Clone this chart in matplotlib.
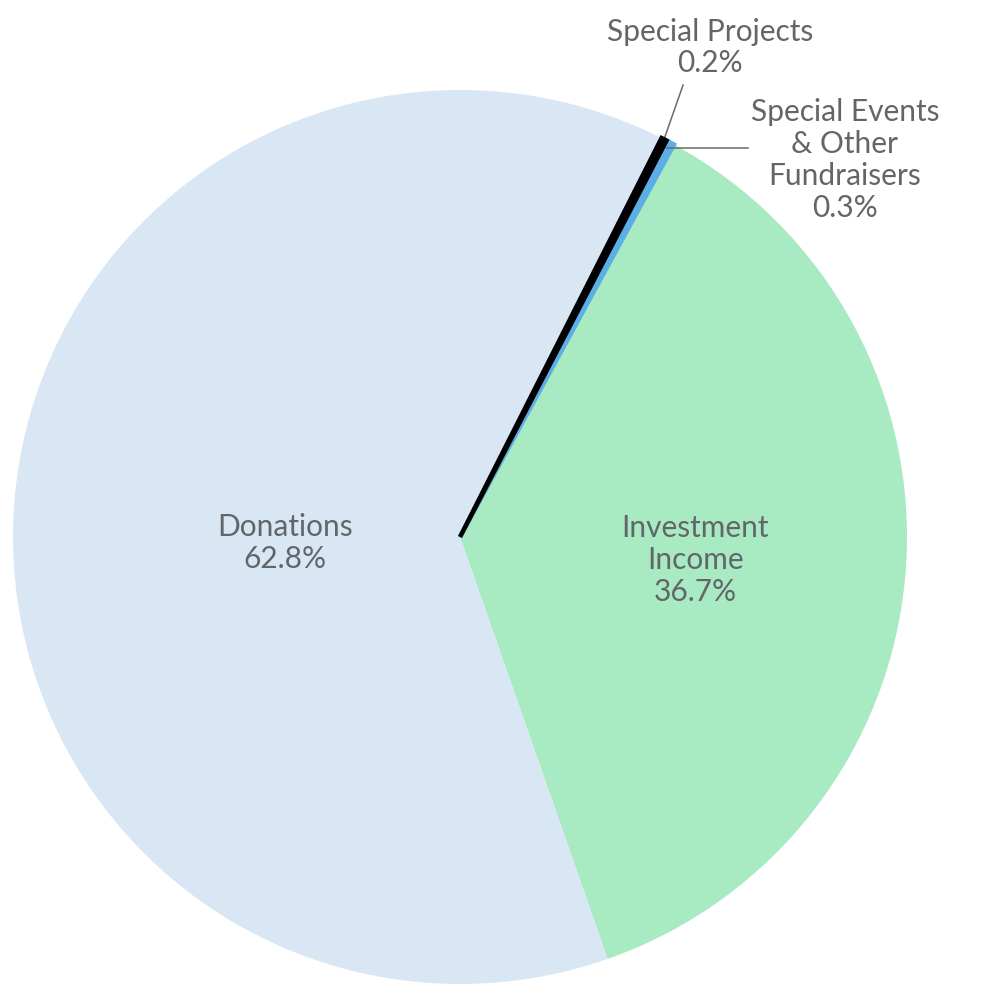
import numpy as np
import matplotlib
matplotlib.use("Agg")
import matplotlib.pyplot as plt

plt.rcParams['font.family'] = ['Lato', 'DejaVu Sans']

# data
categories = ['Investment\nIncome', 'Donations', 'Special Projects', 'Special Events\n& Other\nFundraisers']
shares = [36.7, 62.8, 0.2, 0.3]
colors = ['#a8eac2', '#d9e7f5', '#000000', '#5baee6']

text_color = '#62666a'

fig = plt.figure(figsize=(10, 10), dpi=100)
ax = fig.add_axes([0, 0, 1, 1])

# pie centre sits at pixel (460, 537) with radius 447
R = 447.0

wedges, _ = ax.pie(shares, colors=colors, startangle=61.4, counterclock=False,
                   radius=1.0, center=(0, 0), frame=True)
ax.set_xlim(-460 / R, 540 / R)
ax.set_ylim(-463 / R, 537 / R)
ax.set_aspect('equal')
ax.axis('off')

# small slices get an outline in their own colour so they stay visible
for w, s, c in zip(wedges, shares, colors):
    if s < 1:
        w.set_edgecolor(c)
        w.set_linewidth(3.2)
    else:
        w.set_edgecolor('none')
wedges[2].set_zorder(5)  # black slice on top of the blue one

fs = 21.5
ls = 1.17
ax.text(-0.391, -0.013, 'Donations\n62.8%', ha='center', va='center',
        fontsize=fs, color=text_color, linespacing=ls)
ax.text(0.526, -0.051, 'Investment\nIncome\n36.7%', ha='center', va='center',
        fontsize=fs, color=text_color, linespacing=ls)


def rim(w, r=1.0):
    a = np.deg2rad((w.theta1 + w.theta2) / 2)
    return r * np.cos(a), r * np.sin(a)


# Special Projects label with leader line
x0, y0 = rim(wedges[2], 1.0)
ax.plot([x0, 0.499], [y0, 1.011], color='#6a6a6a', lw=1.1)
ax.text(0.559, 1.095, 'Special Projects\n0.2%', ha='center', va='center',
        fontsize=fs, color=text_color, linespacing=ls)

# Special Events label with leader line
x1, y1 = rim(wedges[3], 0.985)
ax.plot([x1, 0.644], [y1, y1], color='#6a6a6a', lw=1.1)
ax.text(0.861, 0.843, 'Special Events\n& Other\nFundraisers\n0.3%', ha='center', va='center',
        fontsize=fs, color=text_color, linespacing=ls, multialignment='center')

fig.savefig('out.png', dpi=100, facecolor='white')
